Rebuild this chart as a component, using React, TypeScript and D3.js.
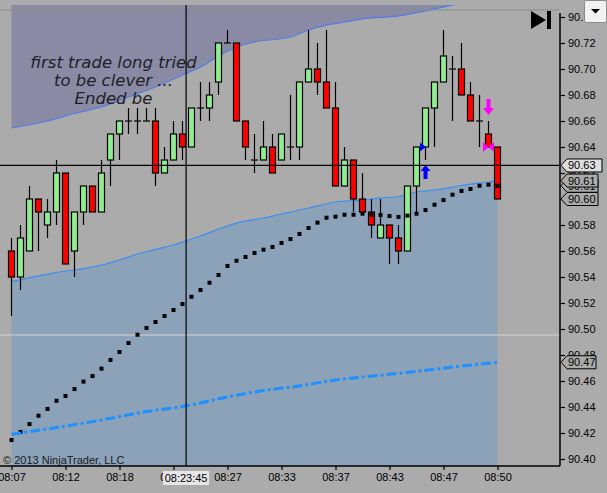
import { useEffect, useRef } from "react"
import * as d3 from "d3"

// tick labels along the time axis (every 6th bar)
const timeLabels = ["08:07", "08:12", "08:18", "08:23", "08:27", "08:33", "08:37", "08:43", "08:47", "08:50"]
const timeTickIdx = [0, 6, 12, 18, 24, 30, 36, 42, 48, 54]

const priceTicks = [90.4, 90.42, 90.44, 90.46, 90.48, 90.5, 90.52, 90.54, 90.56, 90.58, 90.6, 90.62, 90.64, 90.66, 90.68, 90.7, 90.72, 90.74]

// OHLC per bar
const open = [90.56, 90.54, 90.56, 90.6, 90.58, 90.59, 90.62, 90.56, 90.59, 90.61, 90.59, 90.63, 90.65, 90.66, 90.66, 90.66, 90.66, 90.62, 90.63, 90.65, 90.64, 90.67, 90.67, 90.69, 90.72, 90.72, 90.66, 90.63, 90.63, 90.64, 90.63, 90.64, 90.64, 90.69, 90.7, 90.69, 90.67, 90.61, 90.63, 90.6, 90.59, 90.57, 90.58, 90.57, 90.56, 90.61, 90.64, 90.67, 90.69, 90.7, 90.7, 90.68, 90.66, 90.65, 90.64]
const high = [90.57, 90.58, 90.61, 90.6, 90.6, 90.63, 90.62, 90.59, 90.61, 90.61, 90.63, 90.65, 90.66, 90.67, 90.67, 90.67, 90.67, 90.64, 90.66, 90.66, 90.67, 90.69, 90.69, 90.72, 90.73, 90.72, 90.66, 90.65, 90.66, 90.65, 90.65, 90.68, 90.69, 90.73, 90.72, 90.73, 90.69, 90.64, 90.63, 90.62, 90.6, 90.6, 90.58, 90.58, 90.61, 90.64, 90.67, 90.69, 90.73, 90.71, 90.72, 90.69, 90.68, 90.66, 90.64]
const low = [90.51, 90.53, 90.56, 90.56, 90.57, 90.58, 90.55, 90.54, 90.58, 90.59, 90.59, 90.61, 90.63, 90.65, 90.65, 90.66, 90.61, 90.62, 90.63, 90.63, 90.64, 90.66, 90.66, 90.68, 90.72, 90.66, 90.63, 90.62, 90.63, 90.62, 90.63, 90.63, 90.63, 90.69, 90.68, 90.67, 90.61, 90.61, 90.59, 90.59, 90.57, 90.57, 90.55, 90.55, 90.56, 90.59, 90.63, 90.64, 90.69, 90.66, 90.68, 90.66, 90.64, 90.64, 90.6]
const close = [90.54, 90.57, 90.6, 90.59, 90.59, 90.62, 90.55, 90.59, 90.61, 90.59, 90.62, 90.65, 90.66, 90.66, 90.66, 90.66, 90.62, 90.63, 90.65, 90.64, 90.67, 90.67, 90.68, 90.72, 90.72, 90.66, 90.64, 90.63, 90.64, 90.62, 90.65, 90.64, 90.69, 90.7, 90.69, 90.67, 90.61, 90.63, 90.6, 90.59, 90.58, 90.58, 90.57, 90.56, 90.61, 90.64, 90.67, 90.69, 90.71, 90.7, 90.68, 90.66, 90.66, 90.64, 90.6]

// square-dot indicator, one per bar
const dots = [90.4146, 90.4208, 90.4269, 90.4333, 90.4385, 90.4448, 90.4485, 90.4538, 90.4595, 90.4638, 90.4695, 90.4762, 90.4823, 90.4892, 90.4956, 90.5008, 90.5054, 90.51, 90.5146, 90.5192, 90.5248, 90.53, 90.5356, 90.5415, 90.5485, 90.5525, 90.5554, 90.5585, 90.561, 90.5631, 90.5662, 90.5692, 90.5731, 90.5777, 90.5818, 90.5856, 90.5864, 90.5879, 90.5879, 90.5887, 90.5879, 90.5877, 90.5869, 90.5862, 90.5872, 90.5887, 90.5915, 90.5956, 90.5992, 90.6033, 90.6062, 90.6077, 90.6102, 90.611, 90.6102]

// band lines, read at these bar positions
const upperIdx = [0, 4, 7, 10, 13, 16, 19, 21, 23, 25, 27, 31, 33, 35, 37, 39, 43, 47, 49, 54]
const upperVals = [90.6546, 90.66, 90.6658, 90.6708, 90.6785, 90.6862, 90.6954, 90.7015, 90.71, 90.7169, 90.7208, 90.7246, 90.73, 90.7338, 90.7362, 90.7385, 90.7408, 90.7462, 90.7492, 90.757]
const lowerIdx = [0, 3, 5, 8, 10, 12, 14, 16, 18, 20, 21, 23, 25, 28, 31, 33, 36, 39, 41, 43, 45, 47, 49, 51, 53, 54]
const lowerVals = [90.5364, 90.5408, 90.5435, 90.5465, 90.5492, 90.5531, 90.5577, 90.5612, 90.5646, 90.5692, 90.5715, 90.5769, 90.5815, 90.5854, 90.59, 90.5931, 90.5977, 90.5992, 90.6008, 90.6019, 90.6054, 90.6069, 90.6092, 90.6115, 90.6131, 90.6142]

// slow dash-dot average
const slowIdx = [0, 4, 10, 15, 19, 24, 28, 32, 36, 39, 43, 47, 50, 54]
const slowVals = [90.419, 90.4231, 90.43, 90.4365, 90.4404, 90.4477, 90.4527, 90.4562, 90.4608, 90.4631, 90.4659, 90.469, 90.4715, 90.4744]

const entryBar = 46
const entryPrice = 90.64
const exitBar = 53
const exitPrice = 90.64

const crossIdx = 19.4
const crossPrice = 90.6258
const crossTime = "08:23:45"

const topLinePrice = 90.7454
const lowLinePrice = 90.4954

const noteLines = ["first trade long tried", "to be clever ...", "Ended be"]

export default function App() {
  const svgRef = useRef<SVGSVGElement>(null)

  useEffect(() => {
    if (!svgRef.current) return
    d3.select(svgRef.current).selectAll("*").remove()

    const width = 607
    const height = 493
    const plotTop = 5
    const plotBottom = 466
    const plotRight = 560
    const font = "'Liberation Sans', Arial, sans-serif"

    const svg = d3.select(svgRef.current).attr("width", width).attr("height", height)

    svg.append("rect").attr("width", width).attr("height", height).attr("fill", "#ababab")

    const x = d3.scaleLinear().domain([0, 54]).range([11.5, 497.5])
    const y = d3.scaleLinear().domain([90.4, 90.74]).range([459, 17])

    svg
      .append("clipPath")
      .attr("id", "plot")
      .append("rect")
      .attr("x", 0)
      .attr("y", plotTop)
      .attr("width", plotRight)
      .attr("height", plotBottom - plotTop)

    const g = svg.append("g").attr("clip-path", "url(#plot)")

    const upper = upperIdx.map((d, i) => [d, upperVals[i]] as [number, number])
    const lower = lowerIdx.map((d, i) => [d, lowerVals[i]] as [number, number])
    const slow = slowIdx.map((d, i) => [d, slowVals[i]] as [number, number])

    // upper band fill (top of chart down to the line)
    g.append("path")
      .datum(upper)
      .attr("fill", "#8a8aa5")
      .attr(
        "d",
        d3
          .area<[number, number]>()
          .x((d) => x(d[0]))
          .y0(plotTop)
          .y1((d) => y(d[1]))
          .curve(d3.curveMonotoneX)
      )

    // lower band fill (line down to the bottom)
    g.append("path")
      .datum(lower)
      .attr("fill", "#8ba2b9")
      .attr(
        "d",
        d3
          .area<[number, number]>()
          .x((d) => x(d[0]))
          .y0((d) => y(d[1]))
          .y1(plotBottom)
          .curve(d3.curveMonotoneX)
      )

    const bandLine = d3
      .line<[number, number]>()
      .x((d) => x(d[0]))
      .y((d) => y(d[1]))
      .curve(d3.curveMonotoneX)

    g.append("path").datum(upper).attr("fill", "none").attr("stroke", "#527ce6").attr("stroke-width", 1.2).attr("d", bandLine)
    g.append("path").datum(lower).attr("fill", "none").attr("stroke", "#3b8ef2").attr("stroke-width", 1.2).attr("d", bandLine)

    // horizontal reference lines
    g.append("line").attr("x1", 0).attr("x2", plotRight).attr("y1", y(topLinePrice)).attr("y2", y(topLinePrice)).attr("stroke", "#8c8c8c").attr("stroke-width", 1.2)
    g.append("line").attr("x1", 0).attr("x2", plotRight).attr("y1", y(lowLinePrice)).attr("y2", y(lowLinePrice)).attr("stroke", "#d4d4d4").attr("stroke-width", 1)

    // annotation
    svg
      .append("g")
      .selectAll("text")
      .data(noteLines)
      .enter()
      .append("text")
      .attr("x", 113.5)
      .attr("y", (d, i) => 67.5 + i * 18)
      .attr("text-anchor", "middle")
      .style("font-family", "'DejaVu Sans', Verdana, sans-serif")
      .style("font-style", "italic")
      .style("font-size", "16.5px")
      .style("fill", "#1e1e28")
      .text((d) => d)

    // candles
    const bars = d3.range(open.length)
    const bw = 6
    const cg = g.append("g")
    cg.selectAll(".wick")
      .data(bars)
      .enter()
      .append("line")
      .attr("x1", (i) => x(i))
      .attr("x2", (i) => x(i))
      .attr("y1", (i) => y(high[i]))
      .attr("y2", (i) => y(low[i]))
      .attr("stroke", "black")
      .attr("stroke-width", 1.2)

    cg.selectAll(".body")
      .data(bars.filter((i) => open[i] !== close[i]))
      .enter()
      .append("rect")
      .attr("x", (i) => x(i) - bw / 2)
      .attr("y", (i) => y(Math.max(open[i], close[i])))
      .attr("width", bw)
      .attr("height", (i) => Math.abs(y(open[i]) - y(close[i])))
      .attr("fill", (i) => (close[i] > open[i] ? "#90ee90" : "#ff0000"))
      .attr("stroke", "black")
      .attr("stroke-width", 1.2)

    cg.selectAll(".doji")
      .data(bars.filter((i) => open[i] === close[i]))
      .enter()
      .append("line")
      .attr("x1", (i) => x(i) - bw / 2 - 0.5)
      .attr("x2", (i) => x(i) + bw / 2 + 0.5)
      .attr("y1", (i) => y(open[i]))
      .attr("y2", (i) => y(open[i]))
      .attr("stroke", "black")
      .attr("stroke-width", 1.2)

    // square dots
    g.selectAll(".dot")
      .data(dots)
      .enter()
      .append("rect")
      .attr("x", (d, i) => x(i) - 2)
      .attr("y", (d) => y(d) - 2)
      .attr("width", 4)
      .attr("height", 4)
      .attr("fill", "black")

    // slow dash-dot line
    g.append("path")
      .datum(slow)
      .attr("fill", "none")
      .attr("stroke", "#1e90ff")
      .attr("stroke-width", 3)
      .attr("stroke-dasharray", "10,3,3,3")
      .attr("d", bandLine)

    // entry markers (blue)
    const ex = x(entryBar)
    const ey = y(entryPrice)
    svg.append("path").attr("d", `M${ex - 5.5},${ey - 4.5}L${ex + 0.5},${ey}L${ex - 5.5},${ey + 4.5}Z`).attr("fill", "#0000ff")
    const ay = y(low[entryBar]) + 5
    svg
      .append("path")
      .attr("d", `M${ex},${ay}L${ex + 5},${ay + 6}L${ex + 2},${ay + 6}L${ex + 2},${ay + 14}L${ex - 2},${ay + 14}L${ex - 2},${ay + 6}L${ex - 5},${ay + 6}Z`)
      .attr("fill", "#0000ff")

    // exit markers (magenta)
    const xx = x(exitBar)
    const xy = y(exitPrice)
    svg
      .append("path")
      .attr("d", `M${xx - 5.5},${xy - 5}L${xx},${xy}L${xx - 5.5},${xy + 5}Z M${xx + 5.5},${xy - 5}L${xx},${xy}L${xx + 5.5},${xy + 5}Z`)
      .attr("fill", "#ff00ff")
    const by = y(high[exitBar]) - 6
    svg
      .append("path")
      .attr("d", `M${xx},${by}L${xx + 5.5},${by - 7}L${xx + 2},${by - 7}L${xx + 2},${by - 16}L${xx - 2},${by - 16}L${xx - 2},${by - 7}L${xx - 5.5},${by - 7}Z`)
      .attr("fill", "#ff00ff")

    // crosshair
    svg.append("line").attr("x1", 0).attr("x2", plotRight).attr("y1", y(crossPrice)).attr("y2", y(crossPrice)).attr("stroke", "black").attr("stroke-width", 1.2)
    svg.append("line").attr("x1", x(crossIdx)).attr("x2", x(crossIdx)).attr("y1", plotTop).attr("y2", plotBottom).attr("stroke", "black").attr("stroke-width", 1.2)

    // copyright
    svg
      .append("text")
      .attr("x", 3)
      .attr("y", 464)
      .style("font-family", font)
      .style("font-size", "11px")
      .style("fill", "#1a1a1a")
      .text("© 2013 NinjaTrader, LLC")

    // right price axis
    const yAxis = svg
      .append("g")
      .attr("transform", `translate(${plotRight},0)`)
      .call(d3.axisRight(y).tickValues(priceTicks).tickFormat(d3.format(".2f")).tickSize(5).tickPadding(3))
    yAxis.select(".domain").remove()
    yAxis.selectAll("line").attr("stroke", "black").attr("stroke-width", 1.2)
    yAxis.selectAll("text").style("font-family", font).style("font-size", "11px").style("fill", "black")

    svg.append("line").attr("x1", plotRight).attr("x2", plotRight).attr("y1", plotTop + 8).attr("y2", plotBottom).attr("stroke", "black").attr("stroke-width", 1.5)

    // bottom time axis
    const xAxis = svg
      .append("g")
      .attr("transform", `translate(0,${plotBottom})`)
      .call(
        d3
          .axisBottom(x)
          .tickValues(timeTickIdx)
          .tickFormat((d, i) => timeLabels[i])
          .tickSize(4)
          .tickPadding(3)
      )
    xAxis.select(".domain").remove()
    xAxis.selectAll("line").attr("stroke", "black").attr("stroke-width", 1.2)
    xAxis.selectAll("text").style("font-family", font).style("font-size", "11px").style("fill", "black")

    svg.append("line").attr("x1", 0).attr("x2", plotRight).attr("y1", plotBottom).attr("y2", plotBottom).attr("stroke", "black").attr("stroke-width", 1.5)

    // crosshair time label
    const cx = x(crossIdx)
    svg.append("rect").attr("x", cx - 23).attr("y", 471).attr("width", 46).attr("height", 14).attr("fill", "#e6e6e6")
    svg
      .append("text")
      .attr("x", cx)
      .attr("y", 482)
      .attr("text-anchor", "middle")
      .style("font-family", font)
      .style("font-size", "11px")
      .text(crossTime)

    // price markers on the axis
    const marker = (price: number, fill: string, w: number) => {
      const py = y(price)
      const m = svg.append("g")
      m.append("path")
        .attr("d", `M${plotRight + 1},${py}L${plotRight + 7},${py - 6.5}L${plotRight + 7 + w},${py - 6.5}L${plotRight + 7 + w},${py + 6.5}L${plotRight + 7},${py + 6.5}Z`)
        .attr("fill", fill)
        .attr("stroke", "black")
        .attr("stroke-width", 1)
      m.append("text")
        .attr("x", plotRight + 8)
        .attr("y", py + 4)
        .style("font-family", font)
        .style("font-size", "11px")
        .style("fill", "black")
        .text(d3.format(".2f")(price))
    }
    marker(dots[dots.length - 1], "#ababab", 31)
    marker(lowerVals[lowerVals.length - 1], "#ababab", 31)
    marker(close[close.length - 1], "#ababab", 31)
    marker(crossPrice, "#dedede", 35)
    marker(slowVals[slowVals.length - 1], "#ababab", 29)

    // go-to-end icon
    svg.append("path").attr("d", "M531,11L546,20L531,29Z").attr("fill", "black")
    svg.append("rect").attr("x", 547).attr("y", 11).attr("width", 4).attr("height", 18).attr("fill", "black")

    // dropdown button
    svg.append("rect").attr("x", 584.5).attr("y", 0.5).attr("width", 22).attr("height", 22).attr("rx", 2).attr("fill", "#f2f2f2").attr("stroke", "#8a8a8a")
    svg.append("path").attr("d", "M591,9L600,9L595.5,13.5Z").attr("fill", "black")
  }, [])

  return <svg ref={svgRef} style={{ position: "fixed", left: 0, top: 0, display: "block" }}></svg>
}
